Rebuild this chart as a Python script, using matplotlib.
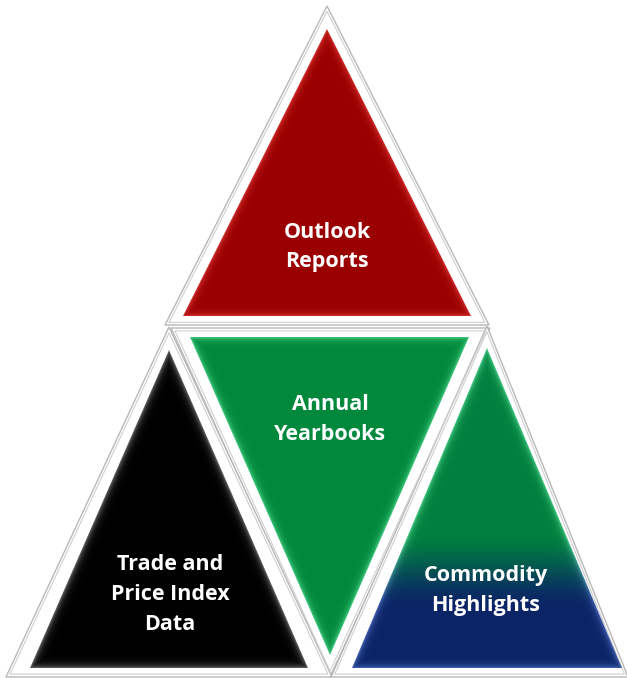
import numpy as np
import matplotlib.pyplot as plt
from matplotlib.patches import Polygon

W, H = 627, 678

labels = ["Outlook\nReports", "Annual\nYearbooks", "Trade and\nPrice Index\nData", "Commodity\nHighlights"]
label_xy = [(327, 247), (330, 419), (170, 594), (486, 590)]

# coloured inner triangles (pixel coords, y down)
tri_inner = [
    [(327, 29), (183, 316), (471, 316)],
    [(190, 337), (469, 337), (330, 655)],
    [(169, 350), (30, 668), (308, 668)],
    [(487, 348), (352, 668), (622, 668)],
]
# white frames round them
tri_frame = [
    [(327, 6), (165, 325), (489, 325)],
    [(171, 328), (490, 328), (330, 677)],
    [(169, 327), (6, 677), (332, 677)],
    [(487, 326), (331, 677), (628, 677)],
]
base_col = ["#9a0000", "#00883c", "#000000", None]
light_col = ["#e8403c", "#5be39a", "#8a8a8a", "#5be39a"]


def hex2rgb(h):
    h = h.lstrip('#')
    return np.array([int(h[i:i + 2], 16) for i in (0, 2, 4)]) / 255.0


def edge_dist(px, py, verts):
    d = np.full(px.shape, 1e9)
    n = len(verts)
    for i in range(n):
        x1, y1 = verts[i]
        x2, y2 = verts[(i + 1) % n]
        ex, ey = x2 - x1, y2 - y1
        L = np.hypot(ex, ey)
        dd = np.abs((px - x1) * ey - (py - y1) * ex) / L
        d = np.minimum(d, dd)
    return d


fig = plt.figure(figsize=(W / 100, H / 100), dpi=100)
ax = fig.add_axes([0, 0, 1, 1])
ax.set_xlim(0, W)
ax.set_ylim(H, 0)
ax.axis('off')

# frames
for fr in tri_frame:
    p = Polygon(fr, closed=True, facecolor='white', edgecolor='#b8b8b8', lw=1.0, zorder=1)
    ax.add_patch(p)
    c = np.mean(fr, axis=0)
    inner = [tuple(c + (np.array(v) - c) * 0.975) for v in fr]
    ax.add_patch(Polygon(inner, closed=True, facecolor='none', edgecolor='#cfcfcf', lw=0.8, zorder=1.5))

# coloured triangles with bevel shading
for i, tri in enumerate(tri_inner):
    xs = [v[0] for v in tri]
    ys = [v[1] for v in tri]
    x0, x1, y0, y1 = min(xs), max(xs), min(ys), max(ys)
    gx, gy = np.meshgrid(np.arange(x0, x1 + 1) + 0.5, np.arange(y0, y1 + 1) + 0.5)
    d = edge_dist(gx, gy, tri)
    if base_col[i] is None:
        # green at the top fading to navy
        t = np.clip((gy - 530) / 80.0, 0, 1)
        t = (t * t * (3 - 2 * t))[..., None]
        base = hex2rgb("#00803e") * (1 - t) + hex2rgb("#0b2466") * t
        light = hex2rgb("#5be39a") * (1 - t) + hex2rgb("#5a7ad0") * t
    else:
        base = hex2rgb(base_col[i])[None, None, :]
        light = hex2rgb(light_col[i])[None, None, :]
    w = (0.75 * np.exp(-d / 3.0))[..., None]
    img = base * (1 - w) + light * w
    img = np.clip(img, 0, 1)
    clip = Polygon(tri, closed=True, facecolor='none', edgecolor='none', transform=ax.transData)
    ax.add_patch(clip)
    im = ax.imshow(img, extent=(x0, x1 + 1, y1 + 1, y0), origin='upper',
                   interpolation='bilinear', zorder=2)
    im.set_clip_path(clip)

# labels
for txt, (x, y) in zip(labels, label_xy):
    lines = txt.split("\n")
    step = 30
    top = y - step * (len(lines) - 1) / 2
    for k, ln in enumerate(lines):
        ax.text(x, top + k * step, ln, ha='center', va='center', color='white',
                fontsize=15.5, fontweight='bold', family=['Open Sans', 'DejaVu Sans'], zorder=5)

ax.set_xlim(0, W)
ax.set_ylim(H, 0)
fig.savefig("out.png", dpi=100)
